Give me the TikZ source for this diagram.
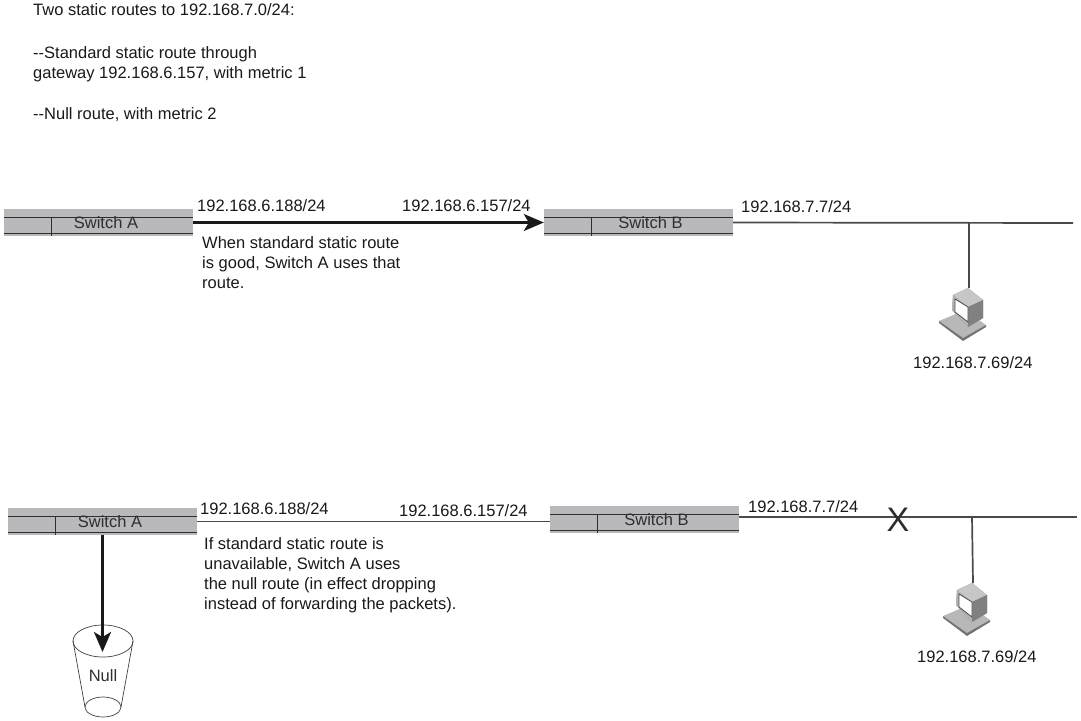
\documentclass[tikz,border=0pt]{standalone}
\usepackage{fontspec}
\setmainfont{Liberation Sans}
\usetikzlibrary{arrows.meta}
\definecolor{boxgray}{HTML}{B9B9BB}
\definecolor{inkgray}{HTML}{2E2E30}
\definecolor{wiregray}{HTML}{4A4A4C}
\newcommand{\switchlines}[1]{%
  \draw[switchline] ([yshift=-9pt]#1.north west) -- ([yshift=-9pt]#1.north east);
  \draw[switchline] ([yshift=3pt]#1.south west) -- ([yshift=3pt]#1.south east);
  \draw[switchline] ([xshift=48pt,yshift=-9pt]#1.north west) -- ([xshift=48pt]#1.south west);
}
\tikzset{
  pchost/.pic={
    \coordinate (-top) at (0,0);
    % keyboard and base
    \fill[black!28] (-30,33) -- (-6,50) -- (17,37) -- (-4,22) -- cycle;
    \fill[black!55] (-30,33) -- (-6,50) -- (17,37) -- (17,39) -- (-6,53) -- (-30,35) -- cycle;
    % monitor
    \fill[black!45] (-16,7) -- (-1,0) -- (14,12) -- (14,30) -- (-1,39) -- (-17,22) -- cycle;
    \fill[black!22] (-16,7) -- (-1,0) -- (14,12) -- (-1,19) -- cycle;
    \fill[black!50] (-1,19) -- (14,12) -- (14,30) -- (-1,39) -- cycle;
    \fill[black!30] (-16,7) -- (-1,19) -- (-1,39) -- (-17,22) -- cycle;
    \fill[white,draw=black!70,line width=0.8pt] (-14,11) -- (-1,19) -- (-1,34) -- (-14,24) -- cycle;
  }
}
\begin{document}
\begin{tikzpicture}[x=1pt,y=-1pt,>={Stealth[length=20pt,width=17pt,inset=5pt]},
  switchbox/.style={draw=none,fill=boxgray,minimum width=189pt,minimum height=27pt,inner sep=0pt,text=inkgray},
  switchline/.style={inkgray,line width=1.1pt},
  wire/.style={wiregray,line width=1.7pt},
  route/.style={black!90,line width=2.4pt},
  lbl/.style={inner sep=0pt,anchor=west,text=black!90},
  note/.style={inner sep=0pt,anchor=north west,align=left,text=black!90},
  font=\fontsize{16.5}{20}\selectfont]
  \useasboundingbox (0,0) rectangle (1081,720);
  % heading
  \node[note] (titleA) at (33,3) {Two static routes to 192.168.7.0/24:};
  \node[note] (titleB) at (33,46) {{-}{-}Standard static route through\\gateway 192.168.6.157, with metric 1};
  \node[note] (titleC) at (33,107) {{-}{-}Null route, with metric 2};
  % upper row, route is good
  \node[switchbox] (swAtop) at (98.5,222.5) {\hspace*{15pt}\raisebox{-1pt}{Switch A}};
  \node[switchbox] (swBtop) at (638.5,222.5) {\hspace*{24pt}\raisebox{-1pt}{Switch B}};
  \switchlines{swAtop}
  \switchlines{swBtop}
  \draw[route,->] (swAtop.east) -- (swBtop.west);
  \coordinate (lanTop) at (1073,223);
  \coordinate (tapTop) at (969,223);
  \draw[wire] (swBtop.east) -- (lanTop);
  \pic (pcTop) at (969,288) {pchost};
  \draw[wire] (tapTop) -- (pcTop-top);
  \node[lbl] (ipAtop) at (197,206) {192.168.6.188/24};
  \node[lbl] (ipBtop) at (402,206) {192.168.6.157/24};
  \node[lbl] (ipCtop) at (741,207) {192.168.7.7/24};
  \node[lbl] (ipPCtop) at (913,363) {192.168.7.69/24};
  \node[note] (noteTop) at (202,236) {When standard static route\\is good, Switch A uses that\\route.};
  % lower row, route is down
  \node[switchbox] (swAbot) at (102.5,521.5) {\hspace*{15pt}\raisebox{-1pt}{Switch A}};
  \node[switchbox] (swBbot) at (644.5,519.5) {\hspace*{24pt}\raisebox{-1pt}{Switch B}};
  \switchlines{swAbot}
  \switchlines{swBbot}
  \draw[wire] (swAbot.east) -- (swAbot.east -| swBbot.west);
  \coordinate (lanBot) at (1077,517);
  \coordinate (tapBot) at (972,517);
  \draw[wire] (swBbot.east |- lanBot) -- (lanBot);
  \pic (pcBot) at (973,583) {pchost};
  \draw[wire] (tapBot) -- (pcBot-top);
  \node[inner sep=0pt,font=\fontsize{34}{34}\selectfont,text=inkgray] (cutX) at (898,520) {X};
  \node[lbl] (ipAbot) at (200,509) {192.168.6.188/24};
  \node[lbl] (ipBbot) at (399,511) {192.168.6.157/24};
  \node[lbl] (ipCbot) at (748,507) {192.168.7.7/24};
  \node[lbl] (ipPCbot) at (917,657) {192.168.7.69/24};
  \node[note] (noteBot) at (204,537) {If standard static route is\\unavailable, Switch A uses\\the null route (in effect dropping\\instead of forwarding the packets).};
  % null bucket
  \draw[black!75,line width=0.7pt] (73,641) -- (85,707);
  \draw[black!75,line width=0.7pt] (133,641) -- (121,707);
  \draw[black!75,line width=0.7pt] (103,641) ellipse [x radius=30,y radius=16];
  \draw[black!75,line width=0.7pt] (103,707) ellipse [x radius=18,y radius=10];
  \node[inner sep=0pt,text=inkgray] (nullBin) at (103,676) {Null};
  \coordinate (binTip) at (102.5,652);
  \draw[route,->] (swAbot.south) -- (binTip);
\end{tikzpicture}
\end{document}
